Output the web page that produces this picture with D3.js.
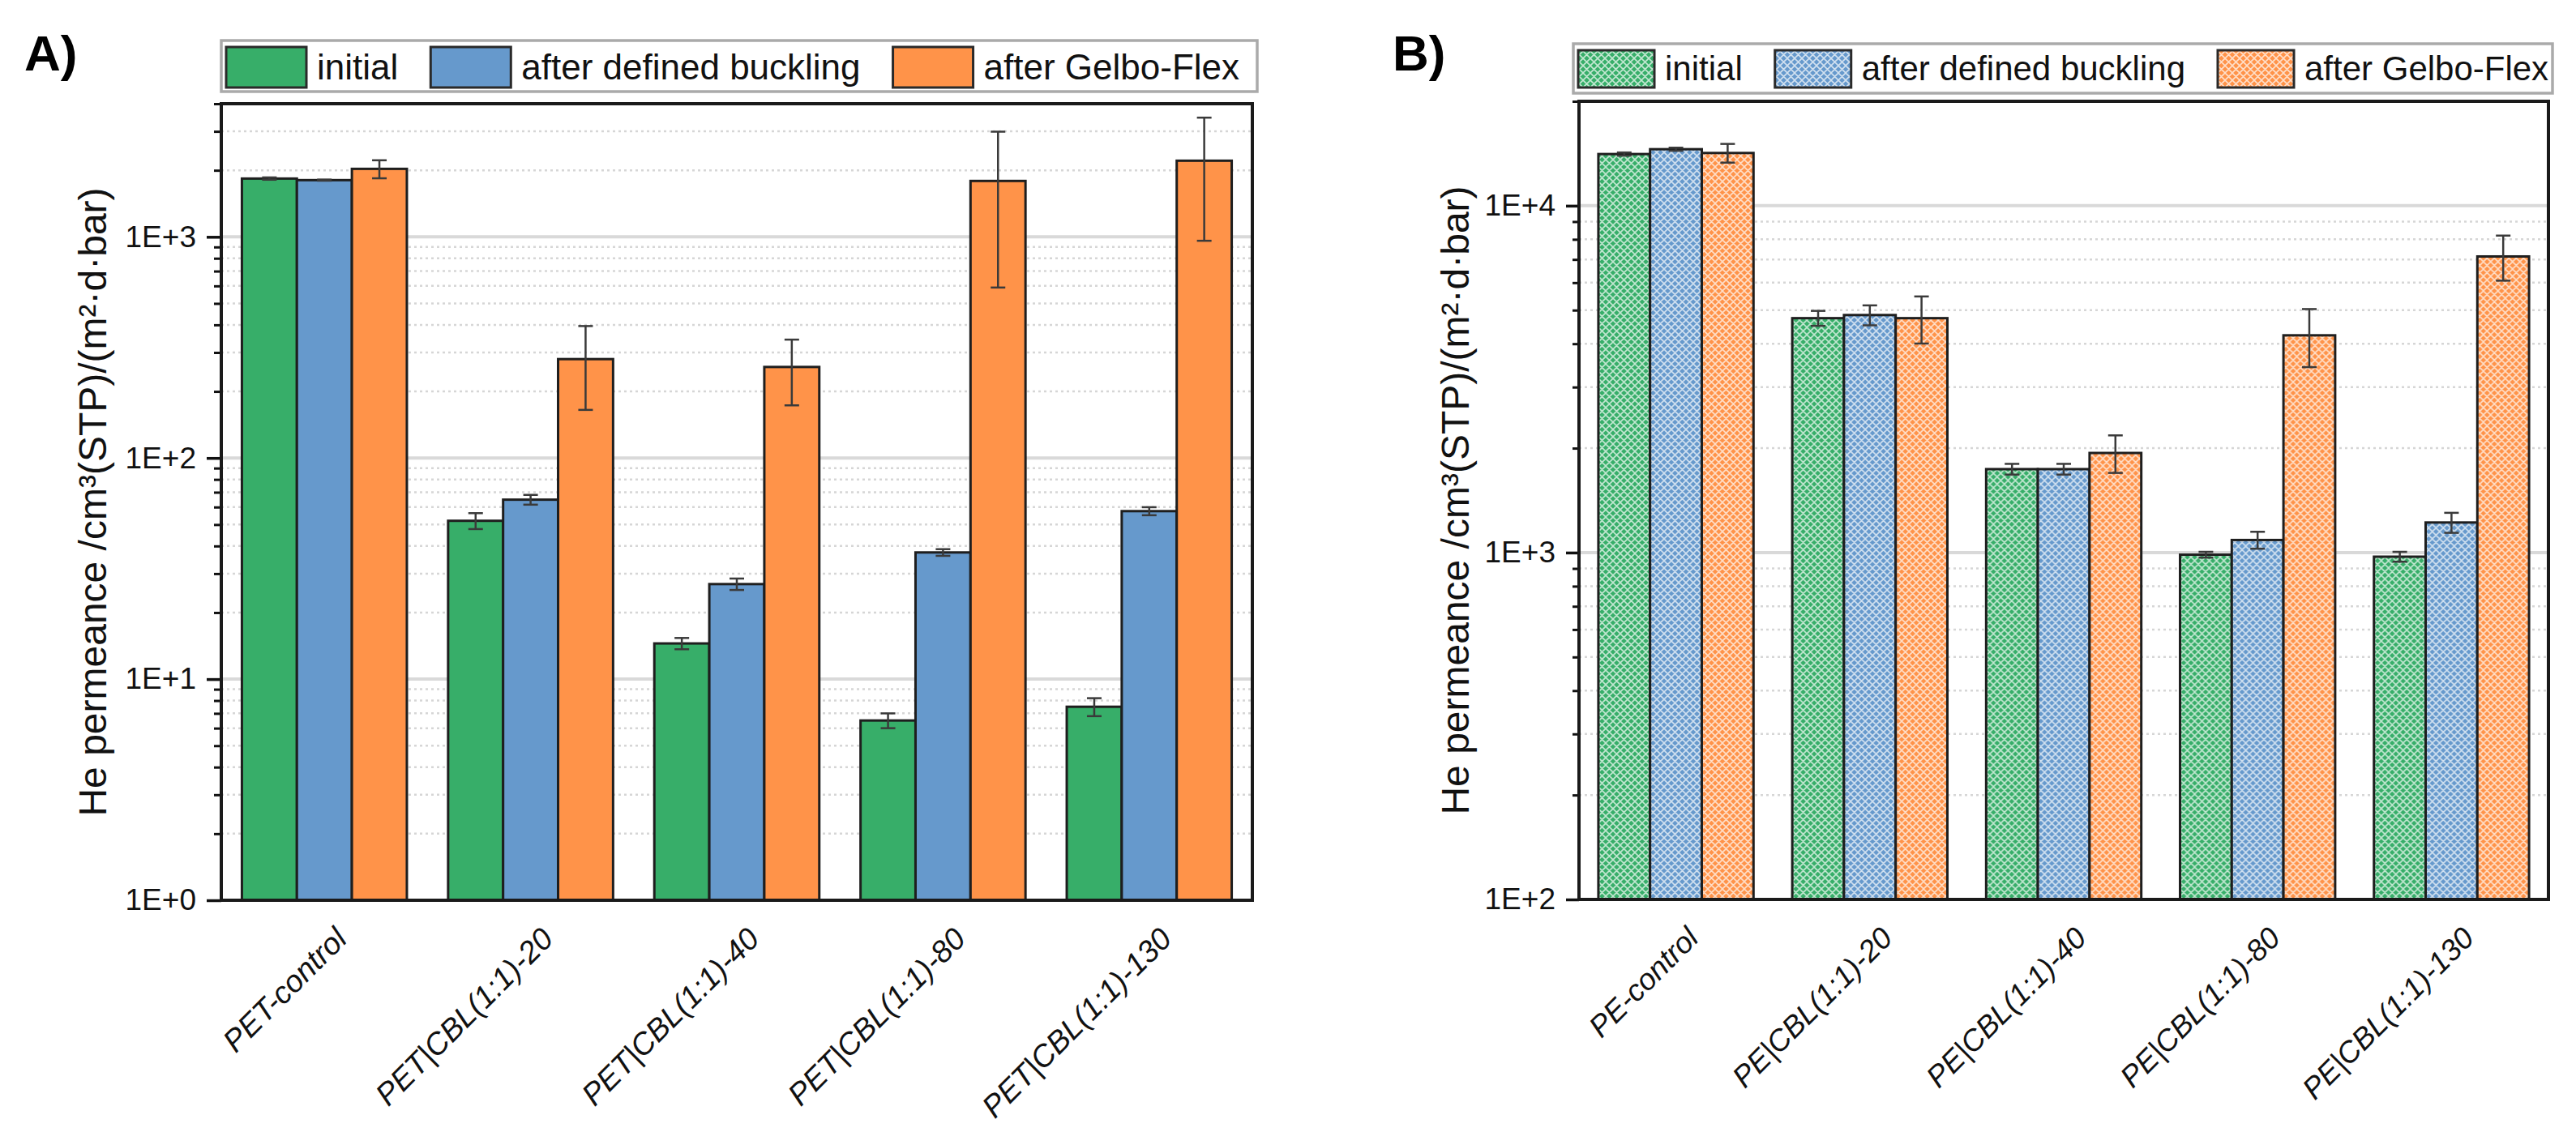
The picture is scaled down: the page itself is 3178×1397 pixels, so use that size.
<!DOCTYPE html>
<html>
<head>
<meta charset="utf-8">
<script src="https://cdn.jsdelivr.net/npm/d3@7"></script>
<style>
  body { margin: 0; background: #fff; }
  text { font-family: "Liberation Sans", Arial, sans-serif; }
</style>
</head>
<body>
<div id="vis"></div>
<script>
//data----
const seriesNames = ["initial", "after defined buckling", "after Gelbo-Flex"];
const seriesColors = ["#37ae69", "#6699cc", "#ff9349"];

// panel A (PET)
const categoriesA = ["PET-control", "PET|CBL(1:1)-20", "PET|CBL(1:1)-40", "PET|CBL(1:1)-80", "PET|CBL(1:1)-130"];
const initialA = [1835, 52, 14.5, 6.5, 7.5];
const initialErrA = [22, 4.3, 0.85, 0.5, 0.7];
const bucklingA = [1805, 64.8, 26.9, 37.4, 57.5];
const bucklingErrA = [10, 3.3, 1.6, 1.3, 2.4];
const gelboA = [2030, 280, 258, 1790, 2210];
const gelboErrA = [190, 115, 85, 1200, 1250];
const majorTicksA = [1, 10, 100, 1000];

// panel B (PE)
const categoriesB = ["PE-control", "PE|CBL(1:1)-20", "PE|CBL(1:1)-40", "PE|CBL(1:1)-80", "PE|CBL(1:1)-130"];
const initialB = [14090, 4740, 1740, 986, 973];
const initialErrB = [150, 235, 62, 19, 32];
const bucklingB = [14550, 4840, 1740, 1087, 1221];
const bucklingErrB = [150, 320, 62, 61, 81];
const gelboB = [14190, 4740, 1937, 4230, 7140];
const gelboErrB = [880, 735, 240, 805, 1060];
const majorTicksB = [100, 1000, 10000];

const yTitle = "He permeance /cm\u00B3(STP)/(m\u00B2\u00B7d\u00B7bar)";

//Draw canvas----
const wrapper = d3.select("#vis")
    .append("svg")
    .attr("width", 3178)
    .attr("height", 1397)
    .style("background", "#fff");

// hatch patterns for panel B
const defs = wrapper.append("defs");
seriesColors.forEach((c, i) => {
    const p = defs.append("pattern")
        .attr("id", "hatch" + i)
        .attr("patternUnits", "userSpaceOnUse")
        .attr("width", 9)
        .attr("height", 9);
    p.append("rect").attr("width", 9).attr("height", 9).attr("fill", c);
    p.append("path")
        .attr("d", "M0,0L9,9M9,0L0,9M-1,8L1,10M8,-1L10,1")
        .attr("stroke", "#fff")
        .attr("stroke-opacity", 0.7)
        .attr("stroke-width", 1.6);
});

function minorValues(domain) {
    const out = [];
    for (let e = Math.floor(Math.log10(domain[0])); e <= Math.log10(domain[1]); e++) {
        for (let k = 2; k <= 9; k++) {
            const v = k * Math.pow(10, e);
            if (v > domain[0] && v <= domain[1] * 1.0001) out.push(v);
        }
    }
    return out;
}

function drawPanel(cfg) {
    const dims = cfg.dims;
    const w = dims.right - dims.left;
    const h = dims.bottom - dims.top;

    const bounds = wrapper.append("g")
        .attr("transform", `translate(${dims.left},${dims.top})`);

    //scales------
    const yScale = d3.scaleLog()
        .domain(cfg.domain)
        .range([h, 0]);

    const xScale = d3.scaleBand()
        .domain(cfg.categories)
        .range([0, w])
        .paddingInner(0.2)
        .paddingOuter(0.1);

    const subScale = d3.scaleBand()
        .domain(d3.range(seriesNames.length))
        .range([0, xScale.bandwidth()]);

    //gridlines
    const minors = minorValues(cfg.domain);
    bounds.append("g").selectAll("line")
        .data(minors)
        .join("line")
        .attr("x1", 0).attr("x2", w)
        .attr("y1", d => yScale(d)).attr("y2", d => yScale(d))
        .attr("stroke", "#d6d6d6")
        .attr("stroke-width", 2.5)
        .attr("stroke-dasharray", "3 4");

    bounds.append("g").selectAll("line")
        .data(cfg.majors)
        .join("line")
        .attr("x1", 0).attr("x2", w)
        .attr("y1", d => yScale(d)).attr("y2", d => yScale(d))
        .attr("stroke", "#d9d9d9")
        .attr("stroke-width", 4);

    //bars
    const rows = cfg.categories.map((c, i) => ({
        cat: c,
        vals: cfg.series.map((s, j) => ({ j: j, v: s[i], e: cfg.errors[j][i] }))
    }));

    const groups = bounds.append("g").selectAll("g")
        .data(rows)
        .join("g")
        .attr("transform", d => `translate(${xScale(d.cat)},0)`);

    groups.selectAll("rect")
        .data(d => d.vals)
        .join("rect")
        .attr("x", d => subScale(d.j))
        .attr("y", d => yScale(d.v))
        .attr("width", subScale.bandwidth())
        .attr("height", d => h - yScale(d.v))
        .attr("fill", d => cfg.hatched ? `url(#hatch${d.j})` : seriesColors[d.j])
        .attr("stroke", "#1e1e1e")
        .attr("stroke-width", 3);

    //error bars
    const err = groups.selectAll("g.err")
        .data(d => d.vals)
        .join("g")
        .attr("class", "err")
        .attr("stroke", "#3a3a3a")
        .attr("stroke-width", 2.5);

    const cx = d => subScale(d.j) + subScale.bandwidth() / 2;
    err.append("line")
        .attr("x1", cx).attr("x2", cx)
        .attr("y1", d => yScale(d.v + d.e))
        .attr("y2", d => yScale(d.v - d.e));
    err.append("line")
        .attr("x1", d => cx(d) - 9).attr("x2", d => cx(d) + 9)
        .attr("y1", d => yScale(d.v + d.e)).attr("y2", d => yScale(d.v + d.e));
    err.append("line")
        .attr("x1", d => cx(d) - 9).attr("x2", d => cx(d) + 9)
        .attr("y1", d => yScale(d.v - d.e)).attr("y2", d => yScale(d.v - d.e));

    //axes-------
    const yAxisMinor = d3.axisLeft(yScale)
        .tickValues(minors)
        .tickSize(cfg.tickLen / 2)
        .tickFormat("");
    const yAxisMajor = d3.axisLeft(yScale)
        .tickValues(cfg.majors)
        .tickSize(cfg.tickLen)
        .tickPadding(13)
        .tickFormat(d => "1E+" + Math.round(Math.log10(d)));

    const gMinor = bounds.append("g").call(yAxisMinor);
    gMinor.select(".domain").remove();
    gMinor.selectAll("line").attr("stroke", "#111").attr("stroke-width", 3);

    const gMajor = bounds.append("g").call(yAxisMajor);
    gMajor.select(".domain").remove();
    gMajor.selectAll("line").attr("stroke", "#111").attr("stroke-width", 3.5);
    gMajor.selectAll("text")
        .attr("fill", "#111")
        .style("font-size", cfg.tickFont + "px")
        .style("font-family", "'Liberation Sans', Arial, sans-serif");

    //frame
    bounds.append("rect")
        .attr("width", w)
        .attr("height", h)
        .attr("fill", "none")
        .attr("stroke", "#1a1a1a")
        .attr("stroke-width", 4);

    //x labels
    bounds.append("g").selectAll("text")
        .data(cfg.categories)
        .join("text")
        .attr("transform", d => `translate(${xScale(d) + xScale.bandwidth() / 2 + 30},${h + 50}) rotate(-45)`)
        .attr("text-anchor", "end")
        .style("font-style", "italic")
        .style("font-size", cfg.catFont + "px")
        .attr("fill", "#111")
        .text(d => d);

    //y title
    wrapper.append("text")
        .attr("transform", `translate(${cfg.titleX},${dims.top + h / 2}) rotate(-90)`)
        .attr("text-anchor", "middle")
        .style("font-size", "48px")
        .attr("fill", "#111")
        .text(yTitle);

    //panel letter
    wrapper.append("text")
        .attr("x", cfg.letterX)
        .attr("y", 87)
        .style("font-size", "62px")
        .style("font-weight", "bold")
        .attr("fill", "#000")
        .text(cfg.letter);

    //legend
    const lg = cfg.legend;
    const legend = wrapper.append("g");
    legend.append("rect")
        .attr("x", lg.x).attr("y", lg.y)
        .attr("width", lg.w).attr("height", lg.h)
        .attr("fill", "#fff")
        .attr("stroke", "#aaa")
        .attr("stroke-width", 3.5);
    let lx = lg.x + 6;
    seriesNames.forEach((name, i) => {
        legend.append("rect")
            .attr("x", lx).attr("y", lg.y + 8)
            .attr("width", lg.sw).attr("height", lg.sh)
            .attr("fill", cfg.hatched ? `url(#hatch${i})` : seriesColors[i])
            .attr("stroke", "#2a2a2a")
            .attr("stroke-width", 3);
        lx += lg.sw + 13;
        const t = legend.append("text")
            .attr("x", lx)
            .attr("y", lg.baseline)
            .style("font-size", lg.font + "px")
            .attr("fill", "#111")
            .text(name);
        lx += t.node().getComputedTextLength() + 40;
    });
}

drawPanel({
    letter: "A)",
    letterX: 30,
    dims: { left: 273, right: 1545, top: 128, bottom: 1111 },
    domain: [1, 4000],
    majors: majorTicksA,
    categories: categoriesA,
    series: [initialA, bucklingA, gelboA],
    errors: [initialErrA, bucklingErrA, gelboErrA],
    hatched: false,
    tickLen: 18,
    tickFont: 37,
    catFont: 38,
    titleX: 131,
    legend: { x: 273, y: 50, w: 1278, h: 63, sw: 99, sh: 50, font: 44, baseline: 98 }
});

drawPanel({
    letter: "B)",
    letterX: 1718,
    dims: { left: 1948, right: 3144, top: 125, bottom: 1110 },
    domain: [100, 20000],
    majors: majorTicksB,
    categories: categoriesB,
    series: [initialB, bucklingB, gelboB],
    errors: [initialErrB, bucklingErrB, gelboErrB],
    hatched: true,
    tickLen: 16,
    tickFont: 37,
    catFont: 37,
    titleX: 1812,
    legend: { x: 1941, y: 54, w: 1208, h: 61, sw: 94, sh: 46, font: 42, baseline: 99 }
});
</script>
</body>
</html>
